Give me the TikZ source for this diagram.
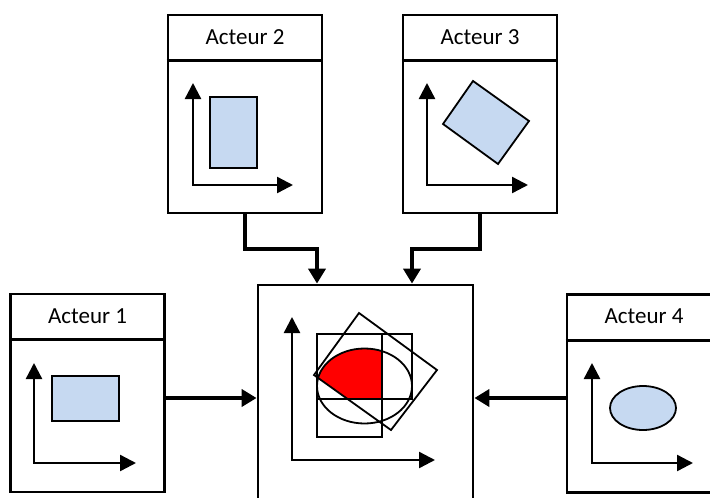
\documentclass[tikz,border=0pt]{standalone}
\usepackage{fontspec}
\setmainfont{Carlito}
\usetikzlibrary{arrows.meta,calc}
\definecolor{lightblue}{HTML}{C6D9F1}
\tikzset{
  actor/.style={draw, line width=2.8pt, minimum width=154pt, minimum height=198pt, inner sep=0pt},
  hdr/.style={font=\fontsize{23}{28}\selectfont, inner sep=0pt},
  axes/.style={line width=2.4pt, {Triangle[length=16pt,width=16pt]}-{Triangle[length=16pt,width=16pt]}},
  conn/.style={line width=4.5pt, -{Triangle[length=15pt,width=17pt]}},
  shp/.style={draw, line width=1.8pt},
  ov/.style={draw, line width=1.8pt}
}
\begin{document}
\begin{tikzpicture}[x=1pt,y=-1pt]
\useasboundingbox (0,0) rectangle (710,498);
\clip (0,0) rectangle (710,498);
% actor boxes
\node[actor] (a1) at (87.5,393) {};
\node[actor] (a2) at (245,114) {};
\node[actor] (a3) at (480,114) {};
\node[actor] (a4) at (644,393.5) {};
\node[draw, line width=2.8pt, minimum width=215pt, minimum height=260pt, inner sep=0pt] (c) at (365.5,415) {};
% header lines
\foreach \b in {a1,a2,a3,a4}{
  \draw[line width=2.8pt] ($(\b.north west)+(0,47)$) -- ($(\b.north east)+(0,47)$);
}
\node[hdr] (t1) at ($(a1.north)+(0,23.5)$) {Acteur 1};
\node[hdr] (t2) at ($(a2.north)+(0,23.5)$) {Acteur 2};
\node[hdr] (t3) at ($(a3.north)+(0,23.5)$) {Acteur 3};
\node[hdr] (t4) at ($(a4.north)+(0,23.5)$) {Acteur 4};
% axes
\draw[axes] (34,363) -- (34,463) -- (136,463);
\draw[axes] (193,83) -- (193,185) -- (293,185);
\draw[axes] (427,83) -- (427,185) -- (528,185);
\draw[axes] (592,363) -- (592,463) -- (693,463);
\draw[axes] (292,317) -- (292,460) -- (435,460);
% actor shapes
\draw[shp, fill=lightblue] (52,376) rectangle (119,421);
\draw[shp, fill=lightblue] (210,97) rectangle (257,168);
\draw[shp, fill=lightblue] (473,81) -- (529,121) -- (498,164) -- (443,124) -- cycle;
\draw[shp, fill=lightblue] (643,408) ellipse [x radius=33, y radius=22];
% overlay in centre
\begin{scope}
  \clip (364.5,386) ellipse [x radius=47.5, y radius=37.5];
  \clip (317,334) rectangle (382,399);
  \clip (359,313) -- (437,370) -- (391,430) -- (314,375) -- cycle;
  \fill[red] (300,300) rectangle (450,450);
\end{scope}
\draw[ov] (317,334) rectangle (412,399);
\draw[ov] (317,334) rectangle (382,437);
\draw[ov] (364.5,386) ellipse [x radius=47.5, y radius=37.5];
\draw[ov] (359,313) -- (437,370) -- (391,430) -- (314,375) -- cycle;
% connectors
\draw[conn] (a2.south) -- (a2.south |- 0,249) -| (c.north -| 317,0);
\draw[conn] (a3.south) -- (a3.south |- 0,249) -| (c.north -| 412,0);
\draw[conn] (a1.east |- 0,398) -- (c.west |- 0,398);
\draw[conn] (a4.west |- 0,398) -- (c.east |- 0,398);
\end{tikzpicture}
\end{document}
